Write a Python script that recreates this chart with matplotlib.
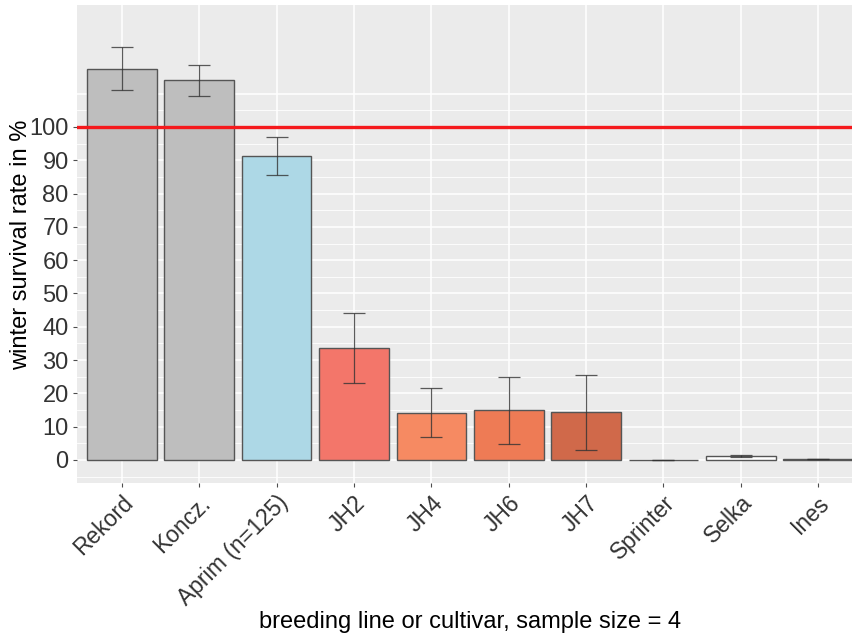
import matplotlib
matplotlib.use("Agg")
import matplotlib.pyplot as plt
import numpy as np

categories = ["Rekord", "Koncz.", "Aprim (n=125)", "JH2", "JH4", "JH6", "JH7", "Sprinter", "Selka", "Ines"]
means = [117.4, 114.1, 91.3, 33.6, 14.1, 15.0, 14.4, 0.1, 1.2, 0.3]
err_low = [111.0, 109.3, 85.6, 23.1, 6.9, 4.8, 3.0, 0.1, 0.9, 0.2]
err_high = [124.0, 118.6, 97.0, 44.1, 21.6, 24.9, 25.5, 0.1, 1.5, 0.4]
colors = ["#BEBEBE", "#BEBEBE", "#ADD8E6", "#F3766A", "#F68A62", "#EE7B55", "#D0694A", "#FFFFFF", "#FFFFFF", "#FFFFFF"]
yticks = [0, 10, 20, 30, 40, 50, 60, 70, 80, 90, 100]
ref_value = 100

plt.rcParams['font.family'] = ['Liberation Sans', 'DejaVu Sans']

fig = plt.figure(figsize=(8.53, 6.37), dpi=100)
ax = fig.add_axes([0.0903, 0.2418, 0.9097, 0.7502])
ax.set_facecolor("#EBEBEB")

x = np.arange(len(categories))
ax.set_xlim(-0.58, 9.45)
ax.set_ylim(-6.9, 136.6)

# grid
for v in np.arange(-5, 111, 5):
    lw = 1.1 if v % 10 == 0 else 0.6
    ax.axhline(v, color="white", lw=lw, zorder=0)
for xi in x:
    ax.axvline(xi, color="white", lw=1.1, zorder=0)

ax.bar(x, means, width=0.9, color=colors, edgecolor="#555555", linewidth=1.0, zorder=2)
m = np.array(means)
yerr = np.vstack([m - np.array(err_low), np.array(err_high) - m])
ax.errorbar(x, means, yerr=yerr, fmt="none", ecolor="#333333", elinewidth=0.9,
            capsize=8, capthick=0.9, alpha=0.8, zorder=3)

ax.axhline(ref_value, color="#F5191C", lw=2.4, zorder=4)

ax.set_yticks(yticks)
ax.set_yticklabels([str(t) for t in yticks])
ax.set_xticks(x)
ax.set_xticklabels(categories, rotation=45, ha="right", rotation_mode="anchor")
ax.tick_params(axis="y", labelsize=17, colors="#4D4D4D", length=3, width=0.8, labelcolor="#333333", pad=3)
ax.tick_params(axis="x", labelsize=16.5, colors="#4D4D4D", length=3, width=0.8, labelcolor="#333333", pad=3)
for s in ax.spines.values():
    s.set_visible(False)

fig.text(0.0246, 0.615, "winter survival rate in %", fontsize=17, color="black",
         rotation=90, ha="center", va="center")
fig.text(0.551, 0.0236, "breeding line or cultivar, sample size = 4", fontsize=17,
         color="black", ha="center", va="center")

fig.savefig("out.png", dpi=100, facecolor="white")
